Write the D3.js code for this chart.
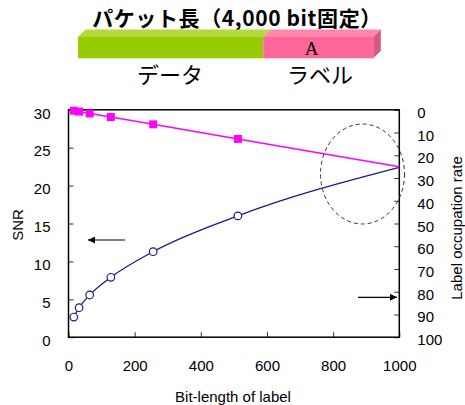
<!DOCTYPE html>
<html><head><meta charset="utf-8">
<script src="https://cdn.jsdelivr.net/npm/d3@7"></script>
<style>body{margin:0;background:#fff}svg{display:block}</style>
</head><body>
<script>
const bitLength = [16, 32, 64, 128, 256, 512, 1000];
const snr = [2.66, 3.89, 5.57, 7.9, 11.28, 16.0, 22.4];
const occupation = [0.4, 0.8, 1.6, 3.2, 6.4, 12.8, 25];
const markerCount = 6;
const xTicks = [0, 200, 400, 600, 800, 1000];
const yLeftTicks = [0, 5, 10, 15, 20, 25, 30];
const yRightTicks = [0, 10, 20, 30, 40, 50, 60, 70, 80, 90, 100];

const W = 465, H = 405;
const L = 68.5, R = 399.3, T = 109.8, B = 337.2;
const svg = d3.select("body").append("svg").attr("width", W).attr("height", H);

// header
const jp = "'Noto Sans CJK JP', sans-serif";
svg.append("text").attr("x", 237).attr("y", 26).attr("text-anchor", "middle")
  .attr("font-family", jp).attr("font-weight", "bold").attr("font-size", 21).attr("letter-spacing", 0.6)
  .text("パケット長（4,000 bit固定）");
const bx0 = 78, bxm = 263.3, bx1 = 373.3, by0 = 37, by1 = 58.3, d = 7.5;
svg.append("rect").attr("x", bx0).attr("y", by0).attr("width", bxm - bx0).attr("height", by1 - by0).attr("fill", "#99cc00");
svg.append("rect").attr("x", bxm).attr("y", by0).attr("width", bx1 - bxm).attr("height", by1 - by0).attr("fill", "#ff6699");
svg.append("polygon").attr("points", `${bx0},${by0} ${bx0+d},${by0-d} ${bxm+d},${by0-d} ${bxm},${by0}`).attr("fill", "#b3d93a");
svg.append("polygon").attr("points", `${bxm},${by0} ${bxm+d},${by0-d} ${bx1+d},${by0-d} ${bx1},${by0}`).attr("fill", "#ff88aa");
svg.append("polygon").attr("points", `${bx1},${by0} ${bx1+d},${by0-d} ${bx1+d},${by1-d} ${bx1},${by1}`).attr("fill", "#d9577f");
svg.append("text").attr("x", 311.5).attr("y", 55).attr("text-anchor", "middle")
  .attr("font-family", "'Liberation Serif', serif").attr("font-size", 19).text("A");
svg.append("text").attr("x", 170).attr("y", 83).attr("text-anchor", "middle")
  .attr("font-family", jp).attr("font-size", 22).text("データ");
svg.append("text").attr("x", 320).attr("y", 83).attr("text-anchor", "middle")
  .attr("font-family", jp).attr("font-size", 22).text("ラベル");

// scales
const x = d3.scaleLinear().domain([0, 1000]).range([L, R]);
const yL = d3.scaleLinear().domain([0, 30]).range([B, T]);
const yR = d3.scaleLinear().domain([0, 100]).range([T, B]);
const font = "'Liberation Sans', Arial, sans-serif";

function styleAxis(g) {
  g.selectAll("path").remove();
  g.selectAll("line").attr("stroke", "#333").attr("stroke-width", 1);
  g.selectAll("text").attr("font-family", font).attr("font-size", 15).attr("fill", "#000");
}
svg.append("g").attr("transform", `translate(0,${B})`)
  .call(d3.axisBottom(x).tickValues(xTicks).tickSizeInner(-5).tickPadding(23).tickFormat(d3.format("d")))
  .call(styleAxis);
svg.append("g").attr("transform", `translate(${L},0)`)
  .call(d3.axisLeft(yL).tickValues(yLeftTicks).tickSizeInner(-5).tickPadding(18))
  .call(styleAxis).call(g => g.selectAll("text").attr("dy", "0.55em"));
svg.append("g").attr("transform", `translate(${R},0)`)
  .call(d3.axisRight(yR).tickValues(yRightTicks).tickSizeInner(-5).tickPadding(18))
  .call(styleAxis).call(g => g.selectAll("text").attr("dy", "0.5em"));

// frame
svg.append("rect").attr("x", L).attr("y", T).attr("width", R - L).attr("height", B - T)
  .attr("fill", "none").attr("stroke", "#000").attr("stroke-width", 1.5);

// titles
svg.append("text").attr("x", 233).attr("y", 402).attr("text-anchor", "middle")
  .attr("font-family", font).attr("font-size", 15).text("Bit-length of label");
svg.append("text").attr("transform", "translate(23,225) rotate(-90)").attr("text-anchor", "middle")
  .attr("font-family", font).attr("font-size", 15).text("SNR");
svg.append("text").attr("transform", "translate(462,228) rotate(-90)").attr("text-anchor", "middle")
  .attr("font-family", font).attr("font-size", 15).text("Label occupation rate");

// lines
const ptsSnr = bitLength.map((b, i) => [x(b), yL(snr[i])]);
const ptsOcc = bitLength.map((b, i) => [x(b), yR(occupation[i])]);
svg.append("path").attr("d", d3.line().curve(d3.curveMonotoneX)(ptsSnr)).attr("fill", "none").attr("stroke", "#1a1a8c").attr("stroke-width", 1.3);
svg.append("path").attr("d", d3.line()(ptsOcc)).attr("fill", "none").attr("stroke", "#ff00ff").attr("stroke-width", 1.5);
svg.selectAll(".sq").data(ptsOcc.slice(0, markerCount)).enter().append("rect")
  .attr("x", d => d[0] - 4).attr("y", d => d[1] - 4).attr("width", 8).attr("height", 8).attr("fill", "#ff00ff");
svg.selectAll(".ci").data(ptsSnr.slice(0, markerCount)).enter().append("circle")
  .attr("cx", d => d[0]).attr("cy", d => d[1]).attr("r", 3.8).attr("fill", "#fff").attr("stroke", "#1a1a8c").attr("stroke-width", 1.2);

// arrows
const defs = svg.append("defs");
defs.append("marker").attr("id", "ah").attr("viewBox", "0 0 10 10").attr("refX", 10).attr("refY", 5)
  .attr("markerWidth", 7).attr("markerHeight", 7).attr("markerUnits", "userSpaceOnUse").attr("orient", "auto")
  .append("path").attr("d", "M0,0 L10,5 L0,10 Z").attr("fill", "#000");
svg.append("line").attr("x1", 125).attr("y1", 240).attr("x2", 88).attr("y2", 240)
  .attr("stroke", "#000").attr("stroke-width", 1.2).attr("marker-end", "url(#ah)");
svg.append("line").attr("x1", 358).attr("y1", 297.3).attr("x2", 397).attr("y2", 297.3)
  .attr("stroke", "#000").attr("stroke-width", 1.2).attr("marker-end", "url(#ah)");

// dashed ellipse
svg.append("ellipse").attr("cx", 362.5).attr("cy", 174).attr("rx", 42).attr("ry", 50)
  .attr("fill", "none").attr("stroke", "#333").attr("stroke-width", 1).attr("stroke-dasharray", "4,3");
</script>
</body></html>
